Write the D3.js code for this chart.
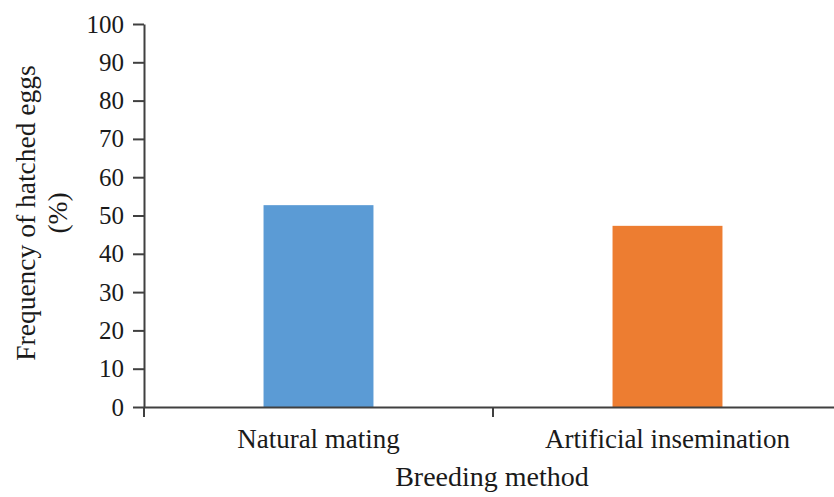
<!DOCTYPE html>
<html>
<head>
<meta charset="utf-8">
<script src="https://cdn.jsdelivr.net/npm/d3@7"></script>
<style>
  html, body { margin: 0; padding: 0; background: #fff; }
  svg { display: block; }
  text { font-family: "Liberation Serif", "Times New Roman", serif; fill: #1a1a1a; }
</style>
</head>
<body>
<svg id="chart" width="834" height="497"></svg>
<script>
const categories = ["Natural mating", "Artificial insemination"];
const values = [52.7, 47.3];
const colors = ["#5B9BD5", "#ED7D31"];
const yTicks = [0, 10, 20, 30, 40, 50, 60, 70, 80, 90, 100];
const yTitleLines = ["Frequency of hatched eggs", "(%)"];
const xTitle = "Breeding method";

(function () {
const svg = d3.select("#chart");
const mLeft = 144, mRight = 842, mTop = 24, mBottom = 407;

const x = d3.scaleBand().domain(categories).range([mLeft, mRight]).paddingInner(0).paddingOuter(0);
const y = d3.scaleLinear().domain([0, 100]).range([mBottom, mTop]);
const barW = x.bandwidth() * 0.315;
const axisColor = "#404040";

// bars
svg.append("g").selectAll("rect").data(values).join("rect")
  .attr("x", (d, i) => x(categories[i]) + (x.bandwidth() - barW) / 2)
  .attr("y", d => y(d))
  .attr("width", barW)
  .attr("height", d => y(0) - y(d))
  .attr("fill", (d, i) => colors[i]);

// y axis
const yAxis = svg.append("g").attr("transform", `translate(${mLeft},0)`)
  .call(d3.axisLeft(y).tickValues(yTicks).tickSize(11).tickPadding(9).tickSizeOuter(0));
yAxis.select(".domain").attr("stroke", axisColor).attr("stroke-width", 2);
yAxis.selectAll(".tick line").attr("stroke", axisColor).attr("stroke-width", 2);
yAxis.selectAll(".tick text").attr("font-size", 25).attr("font-family", "Liberation Serif").attr("fill", "#1a1a1a");

// x axis: labels at band centers
const xAxis = svg.append("g").attr("transform", `translate(0,${mBottom})`)
  .call(d3.axisBottom(x).tickSize(0).tickPadding(22).tickSizeOuter(0));
xAxis.select(".domain").attr("stroke", axisColor).attr("stroke-width", 2);
xAxis.selectAll(".tick text").attr("font-size", 27).attr("font-family", "Liberation Serif").attr("fill", "#1a1a1a");

// boundary ticks on x axis
const bounds = [mLeft, x(categories[1])];
svg.append("g").selectAll("line").data(bounds).join("line")
  .attr("x1", d => d).attr("x2", d => d)
  .attr("y1", mBottom).attr("y2", mBottom + 10)
  .attr("stroke", axisColor).attr("stroke-width", 2);

// x title
svg.append("text")
  .attr("x", (mLeft + mRight) / 2 - 1)
  .attr("y", 486)
  .attr("text-anchor", "middle")
  .attr("font-size", 28)
  .text(xTitle);

// y title
const cy = 213;
svg.append("g").selectAll("text").data(yTitleLines).join("text")
  .attr("transform", (d, i) => `translate(${35 + i * 32},${cy}) rotate(-90)`)
  .attr("text-anchor", "middle")
  .attr("font-size", 27.5)
  .text(d => d);
})();
</script>
</body>
</html>
